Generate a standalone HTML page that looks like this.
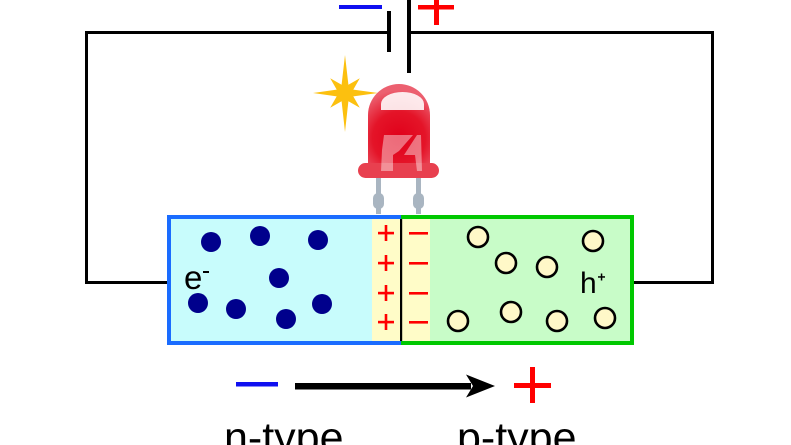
<!DOCTYPE html>
<html><head><meta charset="utf-8"><style>
html,body{margin:0;padding:0;background:#fff;width:791px;height:445px;overflow:hidden}
svg{display:block}
text{font-family:"Liberation Sans",Arial,sans-serif}
</style></head><body>
<svg width="791" height="445" viewBox="0 0 791 445" xmlns="http://www.w3.org/2000/svg">
<defs>
<radialGradient id="ledg" cx="399" cy="138" r="48" gradientUnits="userSpaceOnUse">
<stop offset="0" stop-color="#e0001a"/>
<stop offset="0.55" stop-color="#e41428"/>
<stop offset="1" stop-color="#ec6070"/>
</radialGradient>
</defs>
<!-- circuit wires -->
<path d="M388,32.5 H86.5 V282.5 H168" fill="none" stroke="#000" stroke-width="3"/>
<path d="M410,32.5 H712.5 V282.5 H633" fill="none" stroke="#000" stroke-width="3"/>
<!-- battery -->
<rect x="387" y="11" width="4" height="41" fill="#000"/>
<rect x="407" y="0" width="4" height="73" fill="#000"/>
<rect x="339" y="5" width="43" height="4" fill="#1010f0"/>
<rect x="418" y="5" width="36" height="4.5" fill="#ff0000"/>
<rect x="434" y="0" width="5" height="25" fill="#ff0000"/>
<!-- star -->
<polygon fill="#fcc00f" points="378,93 353.3,96.4 359.8,107.8 348.4,101.3 345,132 341.6,101.3 330.2,107.8 336.7,96.4 313,93 336.7,89.6 330.2,78.2 341.6,84.7 345,55 348.4,84.7 359.8,78.2 353.3,89.6"/>
<!-- LED leads -->
<rect x="376" y="176" width="5" height="38" fill="#a9b5c1"/>
<rect x="373" y="193" width="11" height="16" rx="5" fill="#a9b5c1"/>
<rect x="416" y="176" width="5" height="38" fill="#a9b5c1"/>
<rect x="413" y="193" width="11" height="16" rx="5" fill="#a9b5c1"/>
<!-- LED body -->
<path d="M368,166 V115 A31,31 0 0 1 430,115 V166 Z" fill="url(#ledg)"/>
<rect x="358" y="163" width="81" height="15" rx="7.5" fill="#e8404f"/>
<path d="M381,110 V104 A21.5,12 0 0 1 424,104 V110 Z" fill="#fff" fill-opacity="0.88"/>
<polygon points="384,135 413,135 399,151 393,155 393,171 381,171 382,150" fill="#fff" fill-opacity="0.42"/>
<polygon points="417,135 421,135 422,171 417,171 415,155 404,155" fill="#fff" fill-opacity="0.42"/>
<!-- junction box fills -->
<rect x="171" y="219" width="201" height="122" fill="#c8fcfc"/>
<rect x="372" y="219" width="58" height="122" fill="#fffcc8"/>
<rect x="430" y="219" width="200" height="122" fill="#c8fcc8"/>
<!-- borders -->
<path d="M401,217 H169 V343 H401" fill="none" stroke="#1a6cff" stroke-width="4"/>
<path d="M401,217 H632 V343 H401" fill="none" stroke="#00c800" stroke-width="4"/>
<rect x="400" y="219" width="2.2" height="122" fill="#000"/>
<!-- plus signs -->
<g fill="#ff0000">
<rect x="378" y="231.8" width="16" height="2.6"/><rect x="384.7" y="225" width="2.6" height="16"/>
<rect x="378" y="261.8" width="16" height="2.6"/><rect x="384.7" y="255" width="2.6" height="16"/>
<rect x="378" y="291.8" width="16" height="2.6"/><rect x="384.7" y="285" width="2.6" height="16"/>
<rect x="378" y="320.8" width="16" height="2.6"/><rect x="384.7" y="314" width="2.6" height="16"/>
<rect x="409" y="232" width="19" height="2.6"/>
<rect x="409" y="262" width="19" height="2.6"/>
<rect x="409" y="292" width="19" height="2.6"/>
<rect x="409" y="321" width="19" height="2.6"/>
</g>
<!-- electrons -->
<g fill="#00008c">
<circle cx="211" cy="242" r="10"/>
<circle cx="260" cy="236" r="10"/>
<circle cx="318" cy="240" r="10"/>
<circle cx="279" cy="278" r="10"/>
<circle cx="198" cy="303" r="10"/>
<circle cx="236" cy="309" r="10"/>
<circle cx="286" cy="319" r="10"/>
<circle cx="322" cy="304" r="10"/>
</g>
<!-- holes -->
<g fill="#fff8c8" stroke="#000" stroke-width="2.6">
<circle cx="478" cy="237" r="10"/>
<circle cx="506" cy="263" r="10"/>
<circle cx="547" cy="267" r="10"/>
<circle cx="593" cy="241" r="10"/>
<circle cx="458" cy="321" r="10"/>
<circle cx="511" cy="312" r="10"/>
<circle cx="557" cy="321" r="10"/>
<circle cx="605" cy="318" r="10"/>
</g>
<!-- labels -->
<text x="184" y="289" font-size="33" fill="#000">e</text>
<rect x="203" y="271" width="6" height="2" fill="#000"/>
<text x="580" y="293" font-size="30" fill="#000">h</text>
<rect x="598" y="276.2" width="7" height="1.5" fill="#000"/>
<rect x="600.8" y="273.5" width="1.5" height="7" fill="#000"/>
<!-- bottom arrow -->
<rect x="236" y="382" width="42" height="4.5" fill="#1010f0"/>
<rect x="295" y="383" width="176" height="6.5" fill="#000"/>
<path d="M466,374.5 L495,386 L466,397.5 L473,386 Z" fill="#000"/>
<rect x="514" y="383" width="37" height="5" fill="#ff0000"/>
<rect x="530" y="367" width="5" height="36" fill="#ff0000"/>
<text x="224" y="452" font-size="43" fill="#000">n-type</text>
<text x="457" y="452" font-size="43" fill="#000">p-type</text>
</svg>
</body></html>
